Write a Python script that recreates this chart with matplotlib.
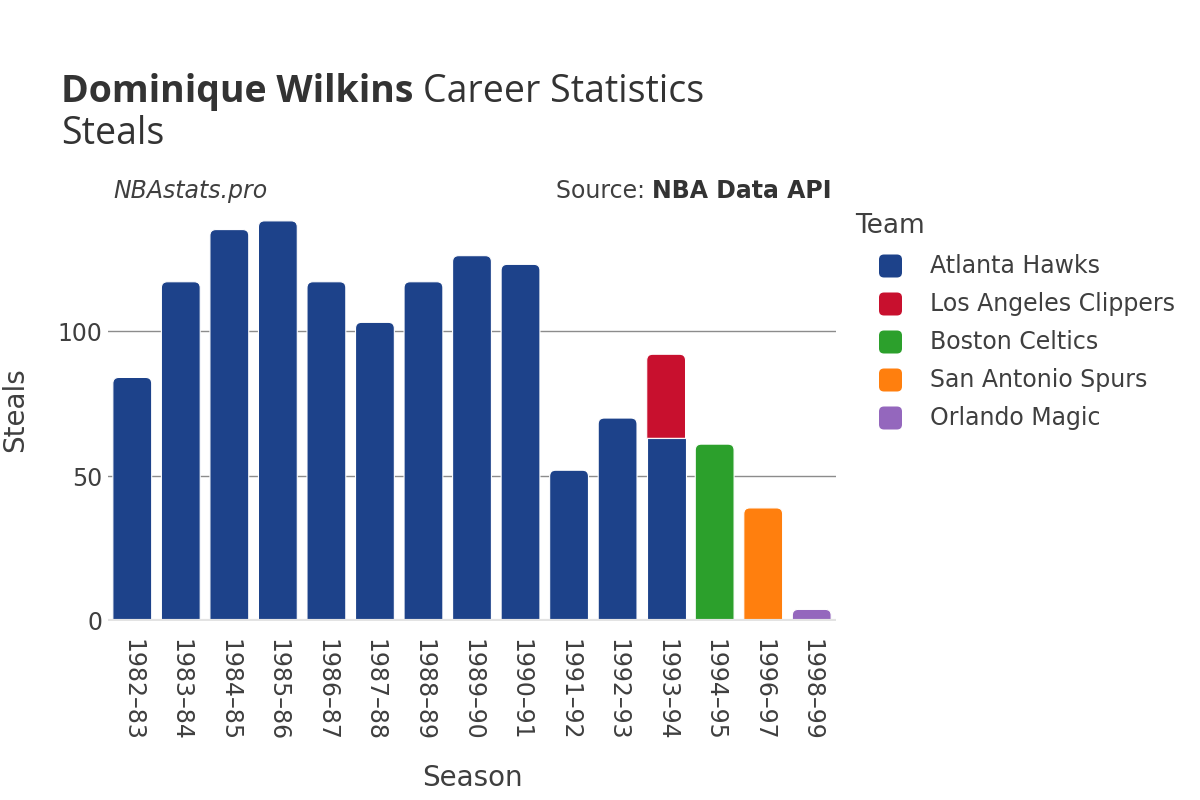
import numpy as np
import matplotlib
matplotlib.use("Agg")
import matplotlib.pyplot as plt
from matplotlib.path import Path
from matplotlib.patches import PathPatch, FancyBboxPatch

# -----------------------------
# Data
# -----------------------------
seasons = ["1982\u201383", "1983\u201384", "1984\u201385", "1985\u201386", "1986\u201387",
           "1987\u201388", "1988\u201389", "1989\u201390", "1990\u201391", "1991\u201392",
           "1992\u201393", "1993\u201394", "1994\u201395", "1996\u201397", "1998\u201399"]

teams = ["Atlanta Hawks", "Los Angeles Clippers", "Boston Celtics",
         "San Antonio Spurs", "Orlando Magic"]
team_colors = ["#1d428a", "#c8102e", "#2ca02c", "#ff7f0e", "#9467bd"]

atl = [84, 117, 135, 138, 117, 103, 117, 126, 123, 52, 70, 63, 0, 0, 0]
lac = [0, 0, 0, 0, 0, 0, 0, 0, 0, 0, 0, 29, 0, 0, 0]
bos = [0, 0, 0, 0, 0, 0, 0, 0, 0, 0, 0, 0, 61, 0, 0]
sas = [0, 0, 0, 0, 0, 0, 0, 0, 0, 0, 0, 0, 0, 39, 0]
orl = [0, 0, 0, 0, 0, 0, 0, 0, 0, 0, 0, 0, 0, 0, 4]
series = [atl, lac, bos, sas, orl]

yticks = [0, 50, 100]
ymax = 145.2

TXT = "#3f3f3f"
plt.rcParams['font.family'] = ['DejaVu Sans']

# -----------------------------
# Figure / axes
# -----------------------------
W, H = 1200, 800
fig = plt.figure(figsize=(12, 8), dpi=100)
ax_l, ax_r, ax_b, ax_t = 108, 836, 621, 200
ax = fig.add_axes([ax_l / W, 1 - ax_b / H, (ax_r - ax_l) / W, (ax_b - ax_t) / H])

n = len(seasons)
ax.set_xlim(-0.5, n - 0.5)
ax.set_ylim(0, ymax)

# pixel -> data scale, for the rounded corners
px_x = (n) / (ax_r - ax_l)
px_y = ymax / (ax_b - ax_t)
rad = 6
rx, ry = rad * px_x, rad * px_y
bw = 0.8


def bar_patch(x0, y0, w, h, rounded, color):
    x1, y1 = x0 + w, y0 + h
    if rounded:
        r_y = min(ry, h / 2)
        verts = [(x0, y0), (x1, y0), (x1, y1 - r_y), (x1, y1), (x1 - rx, y1),
                 (x0 + rx, y1), (x0, y1), (x0, y1 - r_y), (x0, y0)]
        codes = [Path.MOVETO, Path.LINETO, Path.LINETO, Path.CURVE3, Path.CURVE3,
                 Path.LINETO, Path.CURVE3, Path.CURVE3, Path.CLOSEPOLY]
    else:
        verts = [(x0, y0), (x1, y0), (x1, y1), (x0, y1), (x0, y0)]
        codes = [Path.MOVETO, Path.LINETO, Path.LINETO, Path.LINETO, Path.CLOSEPOLY]
    return PathPatch(Path(verts, codes), facecolor=color, edgecolor="white",
                     linewidth=0.8, zorder=2)


totals = np.sum(series, axis=0)
bottom = np.zeros(n)
for vals, col in zip(series, team_colors):
    for i, v in enumerate(vals):
        if v <= 0:
            continue
        top_seg = np.isclose(bottom[i] + v, totals[i])
        ax.add_patch(bar_patch(i - bw / 2, bottom[i], bw, v, top_seg, col))
    bottom = bottom + np.array(vals)

# grid / zero line
for yv in yticks[1:]:
    ax.axhline(yv, color="#8c8c8c", linewidth=1, zorder=1)
ax.axhline(0, color="#e3e3e3", linewidth=3, zorder=3)

for s in ax.spines.values():
    s.set_visible(False)
ax.set_yticks(yticks)
ax.set_yticklabels([str(t) for t in yticks])
ax.set_xticks(range(n))
ax.set_xticklabels(seasons, rotation=-90, ha="center", va="top")
ax.tick_params(axis="both", length=0, labelsize=17, labelcolor=TXT)
ax.tick_params(axis="x", pad=13)
ax.tick_params(axis="y", pad=4)

# axis titles
fig.text(15 / W, 1 - 410 / H, "Steals", rotation=90, ha="center", va="center",
         fontsize=20, color=TXT)
fig.text(472 / W, 1 - 778 / H, "Season", ha="center", va="center",
         fontsize=20, color=TXT)

# -----------------------------
# Titles
# -----------------------------
renderer = fig.canvas.get_renderer()
t1 = fig.text(61 / W, 1 - 102 / H, "Dominique Wilkins", fontsize=27, fontweight="bold",
              family="Open Sans", color="#333333", va="baseline", ha="left")
bb = t1.get_window_extent(renderer)
fig.text(bb.x1 / W + 10 / W, 1 - 102 / H, "Career Statistics", fontsize=27,
         family="Open Sans", color="#333333", va="baseline", ha="left")
fig.text(61 / W, 1 - 144 / H, "Steals", fontsize=27, family="Open Sans",
         color="#333333", va="baseline", ha="left")

fig.text(113 / W, 1 - 191 / H, "NBAstats.pro", fontsize=17, style="italic",
         color=TXT, va="center", ha="left")
s2 = fig.text(832 / W, 1 - 191 / H, "NBA Data API", fontsize=17, fontweight="bold",
              color="#333333", va="center", ha="right")
bb2 = s2.get_window_extent(renderer)
fig.text(bb2.x0 / W, 1 - 191 / H, "Source: ", fontsize=17, color=TXT,
         va="center", ha="right")

# -----------------------------
# Legend (drawn by hand for rounded swatches)
# -----------------------------
fig.text(855 / W, 1 - 226 / H, "Team", fontsize=19, color=TXT, va="center", ha="left")
sw = 23
for k, (name, col) in enumerate(zip(teams, team_colors)):
    yc = 266 + 38 * k
    fig.patches.append(FancyBboxPatch(((879) / W, 1 - (yc + sw / 2) / H), sw / W, sw / H,
                                      boxstyle="round,pad=0,rounding_size=%f" % (5 / W),
                                      mutation_aspect=W / H, transform=fig.transFigure,
                                      facecolor=col, edgecolor="none", figure=fig))
    fig.text(930 / W, 1 - yc / H, name, fontsize=17, color=TXT, va="center", ha="left")

fig.savefig("out.png", dpi=100, facecolor="white")
